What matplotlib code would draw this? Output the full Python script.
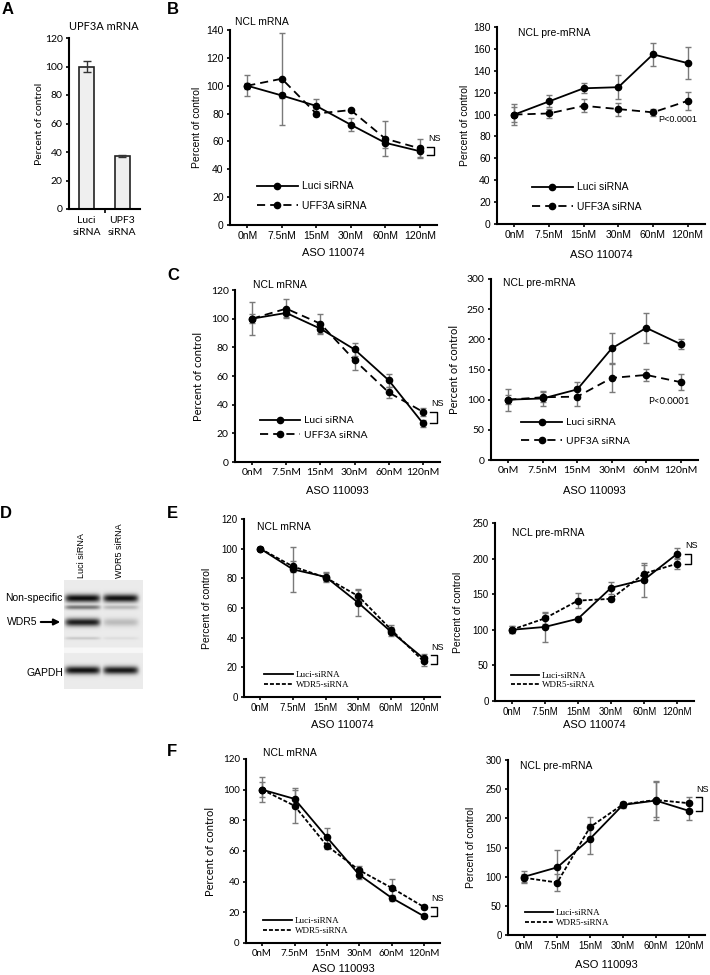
import numpy as np
import matplotlib
matplotlib.use("Agg")
import matplotlib.pyplot as plt
from matplotlib.lines import Line2D

W, H = 710, 975

doses = ["0nM", "7.5nM", "15nM", "30nM", "60nM", "120nM"]

# panel A
a_labels = ["Luci\nsiRNA", "UPF3\nsiRNA"]
a_vals = [100, 37]
a_err = [4, 0.7]

# panel B (ASO 110074, UPF3A knockdown)
b1_luci = [100, 93, 85.5, 72, 59, 53]
b1_luci_err = [7.5, 2, 5, 4.5, 4, 4]
b1_kd = [100, 105, 80, 82.5, 62, 55]
b1_kd_err = [2, 33, 2, 1, 12.5, 7]

b2_luci = [100, 112, 124, 125, 155, 147]
b2_luci_err = [10, 5.5, 4.5, 11, 10.5, 14.5]
b2_kd = [100, 101, 108, 105, 102, 112.5]
b2_kd_err = [7, 4, 6, 6, 3, 8]

# panel C (ASO 110093, UPF3A knockdown)
c1_luci = [100, 104, 93, 78.5, 57, 27]
c1_luci_err = [11.5, 3, 3, 4.5, 4.5, 2.5]
c1_kd = [100, 107, 96.5, 71, 48.5, 35]
c1_kd_err = [3, 6.5, 7, 6.5, 4, 3]

c2_luci = [100, 102, 117, 185, 219, 192]
c2_luci_err = [18, 12, 13, 25, 25, 8]
c2_kd = [100, 104, 105, 136, 141, 129]
c2_kd_err = [8, 8, 16, 23, 10, 13.5]

# panel E (ASO 110074, WDR5 knockdown)
e1_luci = [100, 86, 81, 63.5, 44, 26]
e1_luci_err = [1, 15, 3, 9, 3, 3]
e1_kd = [100, 88, 80.5, 68, 45.5, 24]
e1_kd_err = [1, 4, 3, 4, 3, 3]

e2_luci = [100, 104, 115.5, 159, 170.5, 207]
e2_luci_err = [5, 21, 2, 8.5, 24, 8]
e2_kd = [100, 116, 141, 143.5, 179, 193]
e2_kd_err = [5, 8, 10.5, 3, 12, 8]

# panel F (ASO 110093, WDR5 knockdown)
f1_luci = [100, 94, 69, 44.5, 29.5, 17.5]
f1_luci_err = [8, 6, 6, 3, 2, 1.5]
f1_kd = [100, 89.5, 63.5, 47.5, 36, 23.5]
f1_kd_err = [5, 11.5, 2, 2.5, 5.5, 1.5]

f2_luci = [100, 116, 165, 223, 230.5, 213]
f2_luci_err = [10, 29, 26, 5, 33, 16]
f2_kd = [98, 90, 185, 224, 231.5, 226]
f2_kd_err = [7, 14, 18, 4, 30, 10]

# western blot (panel D)
blot_lanes = ["Luci siRNA", "WDR5 siRNA"]
band_names = ["Non-specific", "", "WDR5", "", "GAPDH"]
band_y = [18, 27, 42, 58, 90]
band_sigma = [2.8, 1.6, 2.8, 1.0, 2.8]
band_dark = [(0.95, 0.93), (0.5, 0.22), (0.88, 0.2), (0.15, 0.06), (0.93, 0.9)]

SANS = "Liberation Sans"
CAL = "Lato"
SERIF = "Liberation Serif"
ERR = "#7a7a7a"

fig = plt.figure(figsize=(W / 100, H / 100), dpi=100)


def px_axes(l, t, r, b):
    return fig.add_axes([l / W, 1 - b / H, (r - l) / W, (b - t) / H])


def style(ax, fam, fs):
    for s in ["top", "right"]:
        ax.spines[s].set_visible(False)
    for s in ["left", "bottom"]:
        ax.spines[s].set_linewidth(1.5)
    ax.tick_params(length=2.5, width=1.2, pad=2, labelsize=fs)
    for lab in ax.get_xticklabels() + ax.get_yticklabels():
        lab.set_family(fam)


def line_panel(box, ymax, ystep, luci, luci_err, kd, kd_err, names, xlabel,
               fam, fs, dash, leg, ylab_px, xlab_px, yl_fs):
    ax = px_axes(*box)
    x = np.arange(len(doses))
    ax.errorbar(x, luci, yerr=luci_err, fmt="none", ecolor=ERR, elinewidth=1,
                capsize=2.5, capthick=1, zorder=2)
    ax.errorbar(x, kd, yerr=kd_err, fmt="none", ecolor=ERR, elinewidth=1,
                capsize=2.5, capthick=1, zorder=2)
    ax.plot(x, luci, color="black", lw=1.3, marker="o", ms=4.5, zorder=3)
    ax.plot(x, kd, color="black", lw=1.3, marker="o", ms=4.5, dashes=dash, zorder=3)
    ax.set_xlim(-0.5, len(doses) - 0.5)
    ax.set_ylim(0, ymax)
    ax.set_yticks(np.arange(0, ymax + 1, ystep))
    ax.set_xticks(x)
    ax.set_xticklabels(doses)
    style(ax, fam, fs)
    ax.set_ylabel("Percent of control", fontsize=yl_fs, family=fam)
    ax.set_xlabel(xlabel, fontsize=8, family=SANS)
    width = box[2] - box[0]
    height = box[3] - box[1]
    ax.yaxis.set_label_coords(-(ylab_px - 5) / width, 0.5)
    ax.xaxis.set_label_coords(0.5, -(xlab_px - 5.5) / height)
    lx, ly, hpx, rowpx, lfs, lfam, marker = leg
    handles = [Line2D([], [], color="black", lw=1.3, marker=marker, ms=4.5),
               Line2D([], [], color="black", lw=1.3, marker=marker, ms=4.5, dashes=dash)]
    ax.legend(handles, names, loc="center left", bbox_to_anchor=(lx, ly),
              frameon=False, borderpad=0, borderaxespad=0,
              handlelength=hpx / 1.389 / lfs, handletextpad=0.35,
              labelspacing=max(rowpx / 1.389 / lfs - 1.2, 0.05),
              prop={"family": lfam, "size": lfs})
    return ax


def ns_bracket(ax, a, b, x0=5.22, x1=5.42, fs=6.5):
    lo, hi = min(a, b), max(a, b)
    ax.plot([x0, x1, x1, x0], [hi, hi, lo, lo], color="black", lw=1, clip_on=False)
    ax.text(x0 + 0.02, hi + (ax.get_ylim()[1] * 0.02), "NS", fontsize=fs,
            family=SANS, ha="left", va="bottom")


# ---- panel A
axA = px_axes(69, 38, 140, 209)
axA.bar([0, 1], a_vals, width=0.42, color="#efefef", edgecolor="#222222", lw=1.2)
axA.errorbar([0, 1], a_vals, yerr=a_err, fmt="none", ecolor="#333333",
             elinewidth=1, capsize=3, capthick=1)
axA.set_xlim(-0.5, 1.5)
axA.set_ylim(0, 120)
axA.set_yticks(range(0, 121, 20))
axA.set_xticks([0, 1])
axA.set_xticklabels(a_labels, linespacing=1.5)
style(axA, CAL, 7.5)
axA.tick_params(axis="x", length=0, pad=5)
axA.set_xticks([0.5], minor=True)
axA.tick_params(axis="x", which="minor", length=3, width=1.2)
axA.set_ylabel("Percent of control", fontsize=7.5, family=CAL)
axA.yaxis.set_label_coords(-25 / 71, 0.5)

# ---- panel B
legB = ["Luci siRNA", "UFF3A siRNA"]
axB1 = line_panel((230, 30, 437, 225), 140, 20, b1_luci, b1_luci_err, b1_kd, b1_kd_err,
                  legB, "ASO 110074", SANS, 7.5, (4.5, 2.8),
                  (0.13, 0.149, 41, 22, 7.5, SANS, "o"), 33, 28, 7.5)
ns_bracket(axB1, b1_luci[-1] - 3, b1_kd[-1] + 1)
axB2 = line_panel((497, 27, 705, 224), 180, 20, b2_luci, b2_luci_err, b2_kd, b2_kd_err,
                  legB, "ASO 110074", SANS, 7.5, (4.5, 2.8),
                  (0.168, 0.137, 41, 22, 7.5, SANS, "o"), 32, 31, 7.5)

# ---- panel C
axC1 = line_panel((235, 290, 440, 462), 120, 20, c1_luci, c1_luci_err, c1_kd, c1_kd_err,
                  ["Luci siRNA", "UFF3A siRNA"], "ASO 110093", CAL, 7.5, (4.5, 2.8),
                  (0.122, 0.198, 40, 18, 7.5, CAL, "o"), 36, 29, 8)
ns_bracket(axC1, c1_luci[-1], c1_kd[-1])
axC2 = line_panel((491, 279, 698, 460), 300, 50, c2_luci, c2_luci_err, c2_kd, c2_kd_err,
                  ["Luci siRNA", "UPF3A siRNA"], "ASO 110093", CAL, 7.5, (4.5, 2.8),
                  (0.145, 0.155, 41, 22, 7.5, CAL, "o"), 36, 31, 8)

# ---- panel E
legW = ["Luci-siRNA", "WDR5-siRNA"]
axE1 = line_panel((244, 519, 440, 697), 120, 20, e1_luci, e1_luci_err, e1_kd, e1_kd_err,
                  legW, "ASO 110074", SANS, 7, (2.2, 1.1),
                  (0.102, 0.096, 29, 12, 6.5, SERIF, None), 37, 28, 7.5)
ns_bracket(axE1, e1_luci[-1] + 2, e1_kd[-1] - 2)
axE2 = line_panel((495, 523, 694, 701), 250, 50, e2_luci, e2_luci_err, e2_kd, e2_kd_err,
                  legW, "ASO 110074", SANS, 7, (2.2, 1.1),
                  (0.08, 0.115, 28, 12, 6.5, SERIF, None), 37, 24, 7.5)
ns_bracket(axE2, e2_luci[-1], e2_kd[-1])

# ---- panel F
axF1 = line_panel((246, 759, 440, 943), 120, 20, f1_luci, f1_luci_err, f1_kd, f1_kd_err,
                  legW, "ASO 110093", CAL, 7, (2.2, 1.1),
                  (0.088, 0.092, 29, 12, 6.5, SERIF, None), 35, 27, 8)
ns_bracket(axF1, f1_luci[-1], f1_kd[-1])
axF2 = line_panel((508, 760, 705, 935), 300, 50, f2_luci, f2_luci_err, f2_kd, f2_kd_err,
                  legW, "ASO 110093", SANS, 7, (2.2, 1.1),
                  (0.086, 0.097, 28, 12, 6.5, SERIF, None), 37, 30, 7.5)
ns_bracket(axF2, f2_luci[-1], f2_kd[-1] + 10)

# ---- overlay in pixel coordinates
ov = fig.add_axes([0, 0, 1, 1])
ov.set_xlim(0, W)
ov.set_ylim(H, 0)
ov.axis("off")

for letter, (x, y) in zip("ABCDEF", [(2, 9), (167, 9), (167, 276), (0, 513), (167, 513), (167, 752)]):
    ov.text(x, y, letter, fontsize=12, fontweight="bold", family=SANS, ha="left", va="center")

titles = [("UPF3A mRNA", 69, 27, CAL, 8), ("NCL mRNA", 235, 22, SANS, 7.5),
          ("NCL pre-mRNA", 518, 33, SANS, 7.5),
          ("NCL mRNA", 253, 285, SANS, 7.5), ("NCL pre-mRNA", 503, 283, SANS, 7.5),
          ("NCL mRNA", 257, 527, SANS, 7.5), ("NCL pre-mRNA", 512, 533, SANS, 7.5),
          ("NCL mRNA", 263, 753, SANS, 7.5), ("NCL pre-mRNA", 520, 766, SANS, 7.5)]
for t, x, y, fam, fs in titles:
    ov.text(x, y, t, fontsize=fs, family=fam, ha="left", va="center")

ov.text(658, 119, "P<0.0001", fontsize=6.5, family=SANS, ha="left", va="center")
ov.text(690, 402, "P<0.0001", fontsize=7, family=CAL, ha="right", va="center")

# western blot image
bx = np.arange(0, 79, 0.5)
by = np.arange(0, 109, 0.5)
X, Y = np.meshgrid(bx, by)
lane_x = [18.5, 56.5]
dark = np.zeros_like(X)
for yc, sig, ds in zip(band_y, band_sigma, band_dark):
    for xc, d in zip(lane_x, ds):
        prof = d * np.exp(-0.5 * ((Y - yc) / sig) ** 2) * np.exp(-((X - xc) / 17.5) ** 8)
        dark = np.maximum(dark, prof)
img = 0.92 * (1 - dark)
img[(Y > 67) & (Y < 73)] = 0.97
ov.imshow(img, cmap="gray", vmin=0, vmax=1, extent=(64, 143, 689, 580),
          origin="upper", aspect="auto", interpolation="bilinear")
ov.set_xlim(0, W)
ov.set_ylim(H, 0)

for name, x in zip(blot_lanes, [81, 120]):
    ov.text(x, 578, name, rotation=90, fontsize=6.5, family=SANS, ha="center", va="bottom")
ov.text(62, 598, band_names[0], fontsize=7.5, family=SANS, ha="right", va="center")
ov.text(37, 622, band_names[2], fontsize=7.5, family=SANS, ha="right", va="center")
ov.annotate("", xy=(63, 622), xytext=(38, 622),
            arrowprops=dict(arrowstyle="-|>", color="black", lw=1.5, mutation_scale=9))
ov.text(63, 673, band_names[4], fontsize=7.5, family=SANS, ha="right", va="center")

fig.savefig("out.png", dpi=100)
